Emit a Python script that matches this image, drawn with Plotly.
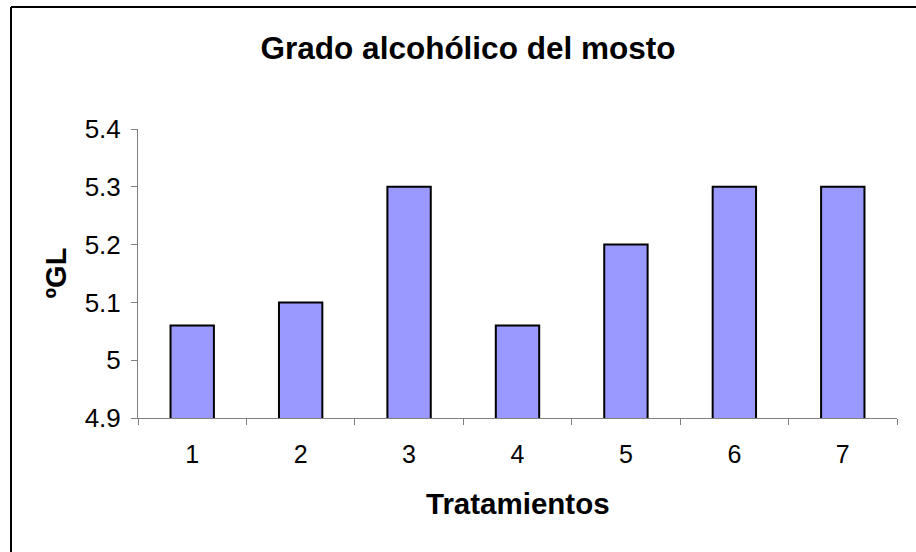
import plotly.graph_objects as go

tratamientos = ["1", "2", "3", "4", "5", "6", "7"]
grado = [5.06, 5.1, 5.3, 5.06, 5.2, 5.3, 5.3]
y_ticks = [4.9, 5.0, 5.1, 5.2, 5.3, 5.4]
y_ticktext = ["4.9", "5", "5.1", "5.2", "5.3", "5.4"]

W, H = 916, 552
L, R, T, B = 138, 19, 129, 134
pw, ph = W - L - R, H - T - B

fig = go.Figure()
fig.add_trace(go.Bar(
    x=tratamientos, y=grado, width=0.4,
    marker=dict(color="#9999FF", line=dict(color="black", width=2)),
))

font = "Arial, Liberation Sans, sans-serif"
fig.update_layout(
    width=W, height=H,
    margin=dict(l=L, r=R, t=T, b=B),
    paper_bgcolor="white", plot_bgcolor="white",
    showlegend=False,
    font=dict(family=font, color="black", size=25),
    title=dict(text="<b>Grado alcohólico del mosto</b>", font=dict(size=31.5),
               x=468 / W, xref="container", xanchor="center",
               y=1 - 48 / H, yref="container", yanchor="middle"),
)
fig.update_xaxes(
    type="category", showline=True, linecolor="#808080", linewidth=1,
    ticks="outside", tickson="boundaries", ticklen=6, tickcolor="#808080",
    ticklabelstandoff=14,
    showgrid=False, zeroline=False,
)
fig.update_yaxes(
    range=[4.9, 5.4], tickvals=y_ticks, ticktext=y_ticktext,
    showline=True, linecolor="#808080", linewidth=1,
    ticks="outside", ticklen=6, tickcolor="#808080",
    ticklabelstandoff=5, tickfont=dict(size=26),
    showgrid=False, zeroline=False,
)

# axis titles placed as annotations so they sit where the original ones do
fig.add_annotation(text="<b>Tratamientos</b>", xref="paper", yref="paper",
                   x=0.5, y=-(503 - (T + ph)) / ph, xanchor="center", yanchor="middle",
                   showarrow=False, font=dict(size=29.5))
fig.add_annotation(text="<b>ºGL</b>", xref="paper", yref="paper", textangle=-90,
                   x=(55 - L) / pw, y=0.5, xanchor="center", yanchor="middle",
                   showarrow=False, font=dict(size=29))

# outer chart frame (only left and top edges visible in the picture)
x_left = (11 - L) / pw
y_top = 1 + (T - 7) / ph
fig.add_shape(type="line", xref="paper", yref="paper",
              x0=x_left, x1=x_left, y0=y_top, y1=-1, line=dict(color="black", width=2))
fig.add_shape(type="line", xref="paper", yref="paper",
              x0=x_left, x1=2, y0=y_top, y1=y_top, line=dict(color="black", width=2))

fig.write_html("out.html", config={"displayModeBar": False},
               post_script="document.body.style.margin='0';")
